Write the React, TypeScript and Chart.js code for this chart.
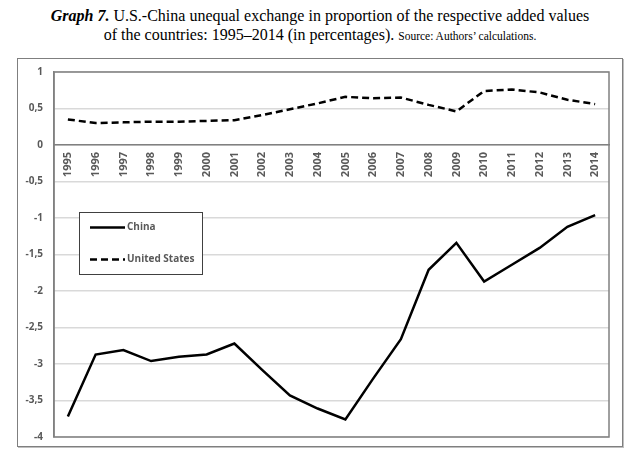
import React, { useEffect, useRef } from "react";
import { Chart, registerables } from "chart.js";

Chart.register(...registerables);

const years = [
  "1995", "1996", "1997", "1998", "1999", "2000", "2001", "2002", "2003", "2004",
  "2005", "2006", "2007", "2008", "2009", "2010", "2011", "2012", "2013", "2014",
];
const chinaValues = [
  -3.72, -2.87, -2.81, -2.96, -2.9, -2.87, -2.72, -3.08, -3.43, -3.61,
  -3.76, -3.2, -2.66, -1.71, -1.34, -1.87, -1.64, -1.41, -1.12, -0.96,
];
const usValues = [
  0.35, 0.3, 0.31, 0.32, 0.32, 0.33, 0.34, 0.41, 0.49, 0.57,
  0.66, 0.64, 0.65, 0.55, 0.46, 0.74, 0.76, 0.72, 0.62, 0.56,
];
const seriesLabels = ["China", "United States"];
const yMin = -4;
const yMax = 1;
const yStep = 0.5;

const TEXT_COLOR = "#595959";
const FONT_FAMILY = '"Open Sans", "Liberation Sans", sans-serif';

const frameBorderPlugin = {
  id: "frameBorder",
  beforeDatasetsDraw(chart: any) {
    const { ctx, chartArea } = chart;
    ctx.save();
    ctx.strokeStyle = "#808080";
    ctx.lineWidth = 1.5;
    ctx.strokeRect(chartArea.left, chartArea.top, chartArea.right - chartArea.left, chartArea.bottom - chartArea.top);
    ctx.restore();
  },
};

const boxLegendPlugin = {
  id: "boxLegend",
  afterDraw(chart: any) {
    const { ctx, chartArea } = chart;
    const x0 = Math.round(chartArea.left + 25);
    const y0 = Math.round(chartArea.top + 140);
    const w = 123;
    const h = 62;
    ctx.save();
    ctx.fillStyle = "#ffffff";
    ctx.fillRect(x0, y0, w, h);
    ctx.strokeStyle = "#404040";
    ctx.lineWidth = 1;
    ctx.strokeRect(x0 + 0.5, y0 + 0.5, w, h);
    chart.data.datasets.forEach((ds: any, i: number) => {
      const y = y0 + 15.5 + i * 32;
      ctx.beginPath();
      ctx.setLineDash(ds.borderDash || []);
      ctx.lineWidth = 2.5;
      ctx.strokeStyle = ds.borderColor;
      ctx.moveTo(x0 + 11, y);
      ctx.lineTo(x0 + 46, y);
      ctx.stroke();
      ctx.setLineDash([]);
      ctx.fillStyle = TEXT_COLOR;
      ctx.font = `bold 10px ${FONT_FAMILY}`;
      ctx.textBaseline = "middle";
      ctx.textAlign = "left";
      ctx.fillText(ds.label, x0 + 48, y);
    });
    ctx.restore();
  },
};

function ChartBox() {
  const canvasRef = useRef<HTMLCanvasElement | null>(null);

  useEffect(() => {
    if (!canvasRef.current) return;
    const chart = new Chart(canvasRef.current, {
      type: "line",
      data: {
        labels: years,
        datasets: [
          {
            label: seriesLabels[0],
            data: chinaValues,
            borderColor: "#000000",
            borderWidth: 2.5,
            pointRadius: 0,
            tension: 0,
            fill: false,
          },
          {
            label: seriesLabels[1],
            data: usValues,
            borderColor: "#000000",
            borderWidth: 2.5,
            borderDash: [7, 4],
            pointRadius: 0,
            tension: 0,
            fill: false,
          },
        ],
      },
      options: {
        animation: false,
        responsive: false,
        maintainAspectRatio: false,
        layout: { padding: { top: 13, right: 13, bottom: 9, left: 0 } },
        plugins: {
          legend: { display: false },
          tooltip: { enabled: false },
          title: { display: false },
        },
        scales: {
          x: {
            type: "category",
            position: { y: 0 } as any,
            offset: true,
            grid: { display: false, drawTicks: false },
            border: { display: true, color: "#808080", width: 1.5 },
            ticks: {
              color: TEXT_COLOR,
              font: { family: FONT_FAMILY, size: 11, weight: "bold" },
              minRotation: 90,
              maxRotation: 90,
              autoSkip: false,
              padding: 7,
            },
          },
          y: {
            type: "linear",
            min: yMin,
            max: yMax,
            grid: {
              color: "#d9d9d9",
              lineWidth: 1.5,
              drawTicks: true,
              tickLength: 8,
              tickColor: "rgba(0,0,0,0)",
            },
            border: { display: true, color: "#808080", width: 1.5 },
            ticks: {
              stepSize: yStep,
              color: TEXT_COLOR,
              font: { family: FONT_FAMILY, size: 10, weight: "bold" },
              padding: 3,
              callback: (v: any) => String(v).replace(".", ","),
            },
            afterFit: (scale: any) => {
              scale.width = 36;
            },
          },
        },
      },
      plugins: [frameBorderPlugin, boxLegendPlugin],
    });
    return () => chart.destroy();
  }, []);

  return <canvas ref={canvasRef} width={604} height={387} style={{ display: "block" }} />;
}

export default function App() {
  return (
    <div style={{ position: "absolute", left: 0, top: 0, width: 640, height: 462, background: "#fff" }}>
      <div
        style={{
          position: "absolute",
          left: 0,
          top: 6,
          width: 640,
          textAlign: "center",
          fontFamily: '"Liberation Serif", "Times New Roman", serif',
          fontSize: 16,
          lineHeight: "19px",
          color: "#000",
        }}
      >
        <div>
          <b>
            <i>Graph 7.</i>
          </b>{" "}
          U.S.-China unequal exchange in proportion of the respective added values
        </div>
        <div>
          of the countries: 1995–2014 (in percentages).{" "}
          <span style={{ fontSize: 11.5 }}>Source: Authors’ calculations.</span>
        </div>
      </div>
      <div
        style={{
          position: "absolute",
          left: 17,
          top: 58,
          width: 604,
          height: 387,
          border: "1px solid #7f7f7f",
          boxShadow: "1px 1px 0 #bfbfbf",
        }}
      >
        <ChartBox />
      </div>
    </div>
  );
}
